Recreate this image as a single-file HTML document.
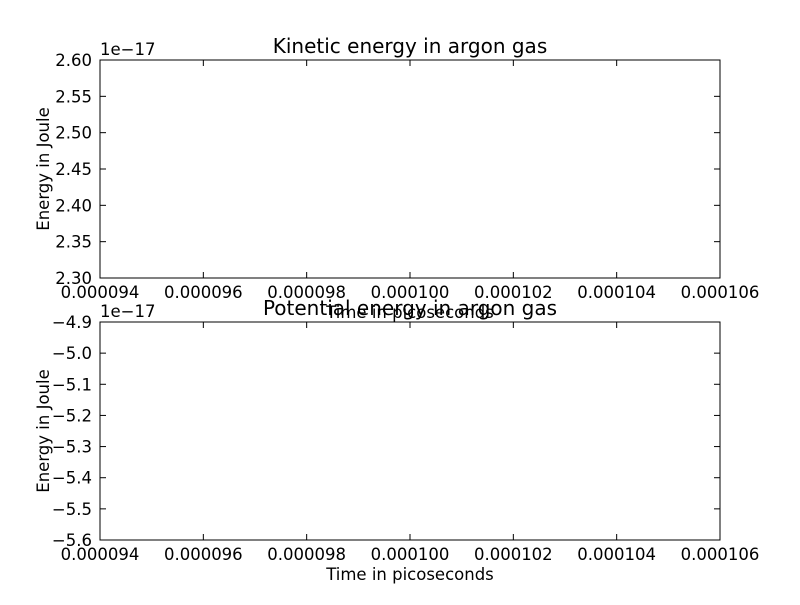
<!DOCTYPE html>
<html><head><meta charset="utf-8"><style>
body{margin:0;background:#fff}
svg text{font-family:"DejaVu Sans","Liberation Sans",sans-serif;fill:#000}
</style></head><body>
<svg id="fig" width="800" height="600" viewBox="0 0 800 600" xmlns="http://www.w3.org/2000/svg">
<rect width="800" height="600" fill="#fff"/>
</svg>
<script>
const xTicks = ["0.000094","0.000096","0.000098","0.000100","0.000102","0.000104","0.000106"];
const keTicks = ["2.30","2.35","2.40","2.45","2.50","2.55","2.60"];
const peTicks = ["−5.6","−5.5","−5.4","−5.3","−5.2","−5.1","−5.0","−4.9"];
const svg = document.getElementById('fig');
const NS = 'http://www.w3.org/2000/svg';
function mk(tag, attrs, parent){const e=document.createElementNS(NS,tag);for(const k in attrs)e.setAttribute(k,attrs[k]);(parent||svg).appendChild(e);return e;}
function panel(name, top, bottom, yTicks, title){
  const L=100,R=720;
  const g=mk('g',{});
  
  
  const frame=mk('rect',{x:L,y:top,width:R-L,height:bottom-top,fill:'none',stroke:'#000','stroke-width':1},g);
  
  
  const xs=i=>L+(R-L)*i/(xTicks.length-1);
  const ys=i=>bottom-(bottom-top)*i/(yTicks.length-1);
  xTicks.forEach((t,i)=>{
    const x=xs(i);
    mk('line',{x1:x,y1:bottom,x2:x,y2:bottom-6,stroke:'#000'},g);
    mk('line',{x1:x,y1:top,x2:x,y2:top+6,stroke:'#000'},g);
    const tx=mk('text',{x:x,y:bottom+20,'font-size':16.5,'text-anchor':'middle'},g);
    tx.textContent=t;
    
    
  });
  yTicks.forEach((t,i)=>{
    const y=ys(i);
    mk('line',{x1:L,y1:y,x2:L+6,y2:y,stroke:'#000'},g);
    mk('line',{x1:R,y1:y,x2:R-6,y2:y,stroke:'#000'},g);
    const tx=mk('text',{x:92,y:y+6,'font-size':16.5,'text-anchor':'end'},g);
    tx.textContent=t;
    
    
  });
  const off=mk('text',{x:100,y:top-5,'font-size':16.5},g);
  off.textContent='1e−17';
  
  
  const tt=mk('text',{x:410,y:top-7,'font-size':20,'text-anchor':'middle'},g);
  tt.textContent=title;
  
  
  const xl=mk('text',{x:410,y:bottom+40,'font-size':16.5,'text-anchor':'middle'},g);
  xl.textContent='Time in picoseconds';
  
  
  const cy=(top+bottom)/2;
  const yl=mk('text',{x:49,y:cy,'font-size':16.5,'text-anchor':'middle',transform:`rotate(-90 49 ${cy})`},g);
  yl.textContent='Energy in Joule';
  
  
}
panel('kinetic-energy-panel',60,278,keTicks,'Kinetic energy in argon gas');
panel('potential-energy-panel',322,540,peTicks,'Potential energy in argon gas');
</script>
</body></html>
